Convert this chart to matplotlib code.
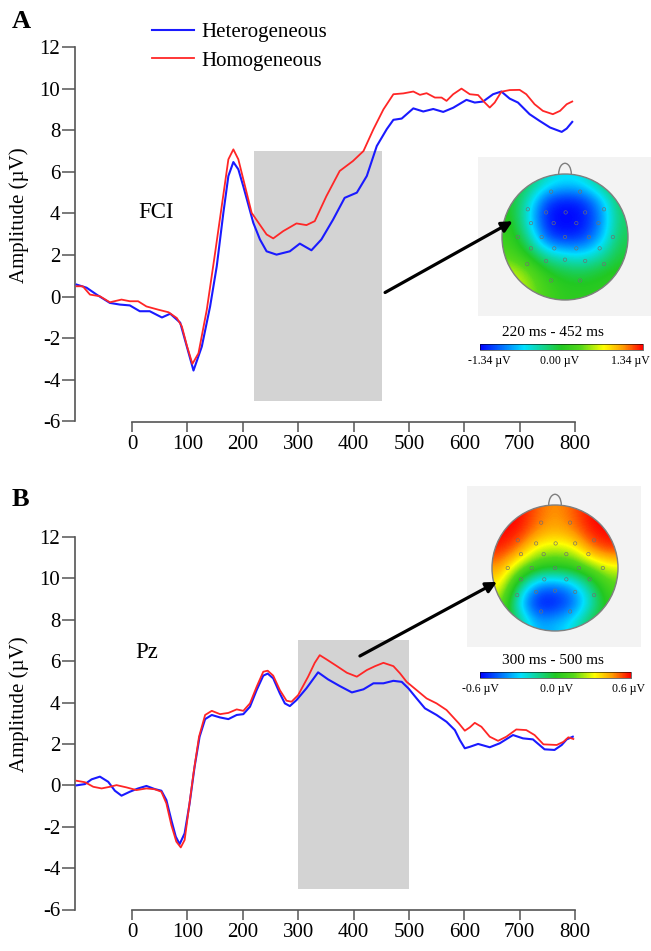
import numpy as np
import matplotlib
matplotlib.use('Agg')
import matplotlib.pyplot as plt
from matplotlib.colors import LinearSegmentedColormap, Normalize
from matplotlib.patches import Rectangle, Circle, Arc
from matplotlib.colorbar import ColorbarBase

plt.rcParams['font.family'] = ['Liberation Serif', 'DejaVu Serif']
plt.rcParams['axes.unicode_minus'] = False

# ---- data ----
# Panel A, site FCI
a_het_t = [-100, -82, -64, -40, -22, -4, 14, 32, 54, 69, 87, 99, 111, 126, 141, 153, 165, 174, 183, 192,
           201, 219, 231, 243, 261, 285, 303, 324, 342, 363, 384, 406, 424, 442, 460, 472, 487, 508, 526, 544,
           562, 580, 604, 619, 634, 652, 667, 682, 697, 718, 736, 755, 776, 785, 795]
a_het_v = [0.58, 0.43, 0.1, -0.3, -0.38, -0.42, -0.7, -0.7, -1.0, -0.82, -1.25, -2.4, -3.55, -2.4, -0.47, 1.46, 4.04, 5.8, 6.47, 6.12,
           5.3, 3.55, 2.75, 2.18, 2.02, 2.18, 2.55, 2.23, 2.75, 3.7, 4.75, 5.0, 5.8, 7.24, 8.05, 8.5, 8.56, 9.05, 8.9, 9.02,
           8.88, 9.08, 9.46, 9.33, 9.38, 9.73, 9.86, 9.52, 9.33, 8.77, 8.45, 8.13, 7.92, 8.08, 8.4]
a_hom_t = [-100, -89, -76, -58, -40, -19, -4, 11, 26, 48, 66, 81, 90, 99, 109, 120, 135, 150, 162, 174,
           183, 192, 201, 216, 231, 243, 255, 273, 297, 315, 330, 351, 375, 399, 418, 436, 454, 472, 490, 508,
           520, 532, 547, 559, 568, 580, 595, 610, 625, 637, 646, 655, 667, 682, 700, 712, 727, 742, 760, 773,
           785, 795]
a_hom_v = [0.5, 0.5, 0.1, 0.02, -0.27, -0.14, -0.22, -0.22, -0.47, -0.63, -0.75, -1.03, -1.43, -2.35, -3.23, -2.72, -0.63, 2.1, 4.35, 6.6,
           7.08, 6.6, 5.64, 4.03, 3.45, 2.99, 2.8, 3.15, 3.52, 3.44, 3.63, 4.83, 6.04, 6.52, 7.0, 8.05, 9.0, 9.73, 9.77, 9.86,
           9.7, 9.78, 9.57, 9.57, 9.41, 9.73, 10.0, 9.73, 9.69, 9.33, 9.09, 9.33, 9.85, 9.93, 9.94, 9.73, 9.25, 8.93, 8.77, 8.93,
           9.25, 9.38]

# Panel B, site Pz
b_het_t = [-100, -85, -73, -58, -43, -31, -19, -4, 11, 26, 41, 53, 62, 71, 79, 86, 95, 104, 113, 122,
           132, 144, 159, 174, 189, 201, 213, 225, 237, 245, 255, 267, 276, 285, 297, 315, 336, 354, 375, 397,
           418, 436, 454, 472, 487, 499, 514, 529, 550, 568, 583, 592, 601, 610, 625, 646, 664, 688, 706, 724,
           745, 763, 776, 785, 796]
b_het_v = [0.0, 0.06, 0.29, 0.42, 0.17, -0.26, -0.5, -0.31, -0.15, -0.03, -0.18, -0.26, -0.71, -1.68, -2.48, -2.84, -2.32, -0.87, 0.9, 2.35,
           3.2, 3.4, 3.28, 3.2, 3.4, 3.44, 3.8, 4.6, 5.3, 5.4, 5.17, 4.44, 3.96, 3.83, 4.12, 4.69, 5.46, 5.12, 4.8, 4.49,
           4.64, 4.93, 4.93, 5.05, 5.0, 4.69, 4.2, 3.72, 3.4, 3.07, 2.67, 2.19, 1.79, 1.86, 2.0, 1.84, 2.03, 2.43, 2.27, 2.22,
           1.74, 1.71, 1.95, 2.22, 2.35]
b_hom_t = [-100, -85, -70, -55, -40, -28, -10, 8, 26, 41, 53, 62, 71, 80, 88, 95, 103, 111, 121, 132,
           144, 159, 174, 189, 201, 213, 225, 237, 245, 255, 267, 279, 288, 300, 318, 330, 339, 351, 370, 388,
           406, 424, 439, 454, 472, 484, 496, 514, 532, 550, 568, 590, 601, 610, 619, 631, 646, 661, 676, 694,
           712, 727, 743, 767, 779, 788, 797]
b_hom_v = [0.22, 0.15, -0.07, -0.15, -0.07, 0.01, -0.1, -0.23, -0.15, -0.19, -0.31, -0.87, -1.92, -2.72, -3.0, -2.64, -1.03, 0.58, 2.35, 3.4,
           3.6, 3.44, 3.5, 3.67, 3.6, 3.96, 4.76, 5.49, 5.54, 5.3, 4.6, 4.09, 4.04, 4.36, 5.25, 5.92, 6.29, 6.09, 5.76, 5.44,
           5.25, 5.57, 5.76, 5.92, 5.76, 5.41, 5.0, 4.6, 4.2, 3.96, 3.64, 3.0, 2.64, 2.8, 3.02, 2.83, 2.35, 2.15, 2.35, 2.7,
           2.67, 2.43, 1.98, 1.95, 2.1, 2.32, 2.24]

a_window = (220, 452)
b_window = (300, 500)
band = (-5, 7)

# topography values on a 7x7 grid (rows top->bottom), in units of the colour scale (-1..1)
a_topo = [[0.0, -0.1, -0.35, -0.45, -0.4, -0.15, 0.0],
          [0.0, -0.35, -0.88, -0.97, -0.92, -0.6, -0.1],
          [0.05, -0.45, -0.98, -1.0, -0.98, -0.7, -0.15],
          [0.1, -0.25, -0.85, -0.95, -0.9, -0.6, -0.1],
          [0.2, 0.0, -0.3, -0.4, -0.45, -0.3, -0.05],
          [0.45, 0.3, 0.05, -0.05, -0.08, 0.0, 0.05],
          [0.5, 0.35, 0.15, 0.05, 0.05, 0.05, 0.1]]
b_topo = [[1.0, 1.0, 0.85, 0.75, 0.85, 1.0, 1.0],
          [1.0, 0.97, 0.78, 0.68, 0.78, 0.97, 1.0],
          [0.95, 0.8, 0.45, 0.4, 0.45, 0.8, 0.92],
          [0.75, 0.35, 0.05, 0.0, 0.05, 0.25, 0.45],
          [0.55, -0.2, -0.7, -0.75, -0.6, -0.2, 0.2],
          [0.35, -0.5, -1.0, -0.98, -0.8, -0.35, 0.1],
          [0.2, -0.15, -0.6, -0.55, -0.4, -0.05, 0.1]]
a_title = '220 ms - 452 ms'
b_title = '300 ms - 500 ms'
a_ticks = ['-1.34 µV', '0.00 µV', '1.34 µV']
b_ticks = ['-0.6 µV', '0.0 µV', '0.6 µV']

# electrode layout (unit head)
elec_x = [-0.22, 0.24, -0.59, -0.30, 0.01, 0.32, 0.62, -0.54, -0.18, 0.18, 0.53, -0.75, -0.37, 0.0, 0.38, 0.76,
          -0.54, -0.17, 0.18, 0.55, -0.6, -0.3, 0.0, 0.32, 0.62, -0.22, 0.24]
elec_y = [0.72, 0.72, 0.44, 0.39, 0.39, 0.39, 0.44, 0.22, 0.22, 0.22, 0.22, 0.0, 0.0, 0.0, 0.0, 0.0,
          -0.18, -0.18, -0.18, -0.18, -0.43, -0.38, -0.36, -0.38, -0.43, -0.69, -0.69]

blue = '#1a1aff'
red = '#ff2626'
spine_c = '#555555'

cmap = LinearSegmentedColormap.from_list(
    'topo', [(0.0, '#0000ff'), (0.27, '#00e0ff'), (0.5, '#22c822'),
             (0.62, '#55d81a'), (0.76, '#ffff00'), (0.88, '#ff9a00'), (1.0, '#ff0000')])

W, H = 651, 951
fig = plt.figure(figsize=(W / 100, H / 100), dpi=100)


def fx(px):
    return px / W


def fy(py):
    return 1 - py / H


def erp_panel(top, bottom, het_t, het_v, hom_t, hom_v, window, site, site_xy):
    ax = fig.add_axes([fx(75), fy(bottom), 500 / W, (bottom - top) / H])
    ax.set_facecolor('none')
    ax.set_xlim(-103, 800)
    ax.set_ylim(-6, 12)
    ax.add_patch(Rectangle((window[0], band[0]), window[1] - window[0], band[1] - band[0],
                           color='#d3d3d3', lw=0, zorder=1))
    l1, = ax.plot(het_t, het_v, color=blue, lw=1.5, zorder=3, solid_joinstyle='round')
    l2, = ax.plot(hom_t, hom_v, color=red, lw=1.3, zorder=3, solid_joinstyle='round')
    for s in ['top', 'right']:
        ax.spines[s].set_visible(False)
    for s in ['left', 'bottom']:
        ax.spines[s].set_color(spine_c)
        ax.spines[s].set_linewidth(1.2)
    ax.spines['left'].set_bounds(-6, 12)
    ax.spines['bottom'].set_bounds(0, 800)
    ax.set_xticks(range(0, 801, 100))
    ax.set_yticks(range(-6, 13, 2))
    ax.tick_params(axis='y', length=9.5, width=1.1, color=spine_c, labelsize=15, pad=1)
    ax.tick_params(axis='x', length=7, width=1.1, color=spine_c, labelsize=15, pad=3)
    ax.set_ylabel('Amplitude (µV)', fontsize=15)
    ax.yaxis.set_label_coords(-0.092, 0.55)
    ax.text(site_xy[0], site_xy[1], site, fontsize=16.5, ha='center', va='center')
    return ax, l1, l2


def topomap(ax_main, bg, cx, cy, grid, scale, cbar_x, cbar_y, title, title_y, ticks, tick_x, tick_y, tail, head):
    r = 63
    fig.add_artist(Rectangle((fx(bg[0]), fy(bg[3])), (bg[2] - bg[0]) / W, (bg[3] - bg[1]) / H,
                             transform=fig.transFigure, color='#f3f3f3', lw=0, zorder=-1))
    hax = fig.add_axes([fx(cx - 1.25 * r), fy(cy + 1.25 * r), 2.5 * r / W, 2.5 * r / H])
    hax.set_xlim(-1.25, 1.25)
    hax.set_ylim(-1.25, 1.25)
    hax.axis('off')
    im = hax.imshow(np.array(grid), extent=(-1, 1, -1, 1), origin='upper', cmap=cmap,
                    vmin=-1, vmax=1, interpolation='bicubic')
    im.set_clip_path(Circle((0, 0), 1, transform=hax.transData))
    hax.add_patch(Circle((0, 0), 1, fill=False, ec='#7f7f7f', lw=1))
    hax.add_patch(Arc((0, 1.0), 0.2, 0.34, theta1=0, theta2=180, ec='#7f7f7f', lw=1))
    hax.scatter(elec_x, elec_y, s=6, facecolors='none', edgecolors='#707070', linewidths=0.45,
                zorder=4)

    cax = fig.add_axes([fx(cbar_x[0]), fy(cbar_y[1]), (cbar_x[1] - cbar_x[0]) / W, (cbar_y[1] - cbar_y[0]) / H])
    cb = ColorbarBase(cax, cmap=cmap, norm=Normalize(-scale, scale), orientation='horizontal')
    cb.set_ticks([])
    cb.outline.set_linewidth(0.4)
    fig.text(fx(553), fy(title_y), title, ha='center', va='center', fontsize=11)
    for lab, x in zip(ticks, tick_x):
        fig.text(fx(x), fy(tick_y), lab, ha='center', va='center', fontsize=8.5)

    hax.annotate('', xy=head, xycoords='data', xytext=tail, textcoords=ax_main.transData,
                 arrowprops=dict(arrowstyle='-|>', color='k', lw=2.3, mutation_scale=16,
                                 shrinkA=0, shrinkB=0),
                 annotation_clip=False)


axA, lh, lo = erp_panel(47, 421.5, a_het_t, a_het_v, a_hom_t, a_hom_v, a_window, 'FCI', (43, 4.05))
axB, _, _ = erp_panel(537, 909.5, b_het_t, b_het_v, b_hom_t, b_hom_v, b_window, 'Pz', (27, 6.44))

topomap(axA, (478, 157, 651, 316), 565, 237, a_topo, 1.34, (480, 643), (344, 350),
        a_title, 333, a_ticks, (489, 560, 630), 361, (457, 0.2), (-0.83, 0.25))
topomap(axB, (467, 486, 641, 647), 555, 568, b_topo, 0.6, (480, 631), (672, 678),
        b_title, 660, b_ticks, (480, 557, 628), 689, (411.6, 6.25), (-0.92, -0.22))

fig.legend([lh, lo], ['Heterogeneous', 'Homogeneous'], loc='center left',
           bbox_to_anchor=(fx(152), fy(46.5)), bbox_transform=fig.transFigure,
           frameon=False, fontsize=15, handlelength=2.0, handletextpad=0.35,
           labelspacing=0.45, borderpad=0, borderaxespad=0)

fig.text(fx(12), fy(22), 'A', fontsize=19, fontweight='bold', ha='left', va='center')
fig.text(fx(12), fy(500), 'B', fontsize=19, fontweight='bold', ha='left', va='center')

fig.savefig('out.png', dpi=100)
